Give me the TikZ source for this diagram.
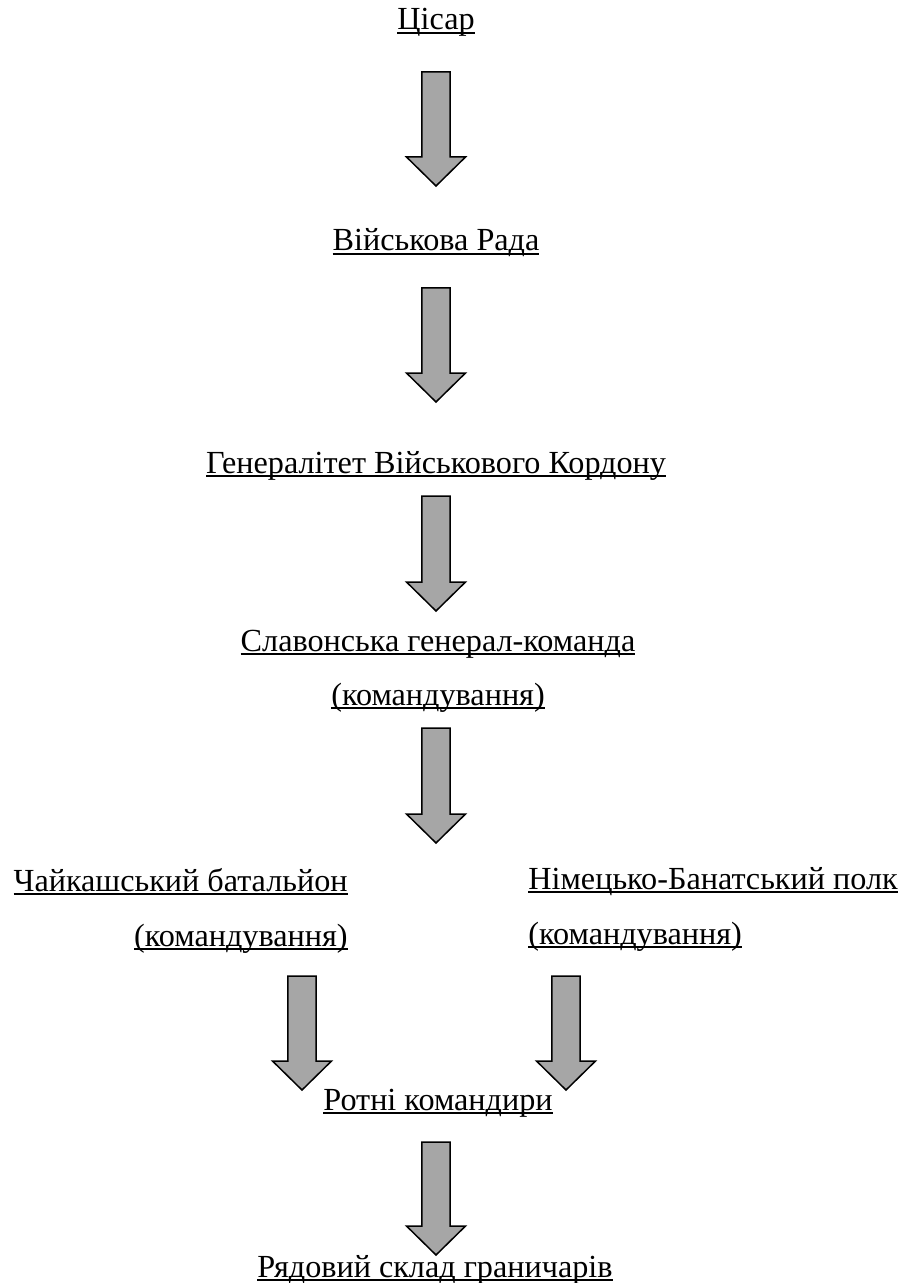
\documentclass[tikz,border=0pt]{standalone}
\usepackage{fontspec}
\setmainfont{Liberation Serif}
\usetikzlibrary{calc, positioning}

\definecolor{arrowgray}{RGB}{166,166,166}
\newcommand{\ul}[1]{\setbox0\hbox{#1}\rlap{\rule[-1.95pt]{\wd0}{0.9pt}}\box0}

\begin{document}
\begin{tikzpicture}[x=0.5pt, y=-0.5pt,
    level/.style={font=\fontsize{16.1}{18}\selectfont, inner sep=0pt, anchor=base},
    fatarrow/.style={draw=black, fill=arrowgray, line width=0.75pt, line join=miter,
      to path={let \p1=(\tikztostart), \p2=(\tikztotarget) in
        (\x1-7.1pt,\y1) -- (\x1+7.1pt,\y1) -- (\x1+7.1pt,\y2+14.5pt)
        -- (\x1+14.75pt,\y2+14.5pt) -- (\x2,\y2) -- (\x1-14.75pt,\y2+14.5pt)
        -- (\x1-7.1pt,\y2+14.5pt) -- cycle}}]

      \useasboundingbox (0,0) rectangle (904,1283);

      % Levels of command
      \node[level] (tsar) at (436,30) {\ul{Цісар}};
      \node[level] (rada) at (436,251) {\ul{Військова Рада}};
      \node[level] (general) at (436,473) {\ul{Генералітет Військового Кордону}};
      \node[level] (slav) at (438,651) {\ul{Славонська генерал-команда}};
      \node[level] (slavcmd) at (438,705) {\ul{(командування)}};
      \node[level, anchor=base east] (chaik) at (348,891) {\ul{Чайкашський батальйон}};
      \node[level, anchor=base east] (chaikcmd) at (348,946) {\ul{(командування)}};
      \node[level, anchor=base west] (nimets) at (528,889) {\ul{Німецько-Банатський полк}};
      \node[level, anchor=base west] (nimetscmd) at (528,944) {\ul{(командування)}};
      \node[level] (rotni) at (438,1110) {\ul{Ротні командири}};
      \node[level] (ryad) at (435,1277) {\ul{Рядовий склад граничарів}};

      % Arrow ends
      \coordinate (a1) at (436,72);    \coordinate (b1) at (436,186);
      \coordinate (a2) at (436,288);   \coordinate (b2) at (436,402);
      \coordinate (a3) at (436,496);   \coordinate (b3) at (436,611);
      \coordinate (a4) at (436,728);   \coordinate (b4) at (436,843);
      \coordinate (a5) at (302,976);   \coordinate (b5) at (302,1090);
      \coordinate (a6) at (566,976);   \coordinate (b6) at (566,1090);
      \coordinate (a7) at (436,1142);  \coordinate (b7) at (436,1255);

      % Arrows
      \foreach \i in {1,...,7}
        \draw[fatarrow] (a\i) to (b\i);

\end{tikzpicture}
\end{document}
